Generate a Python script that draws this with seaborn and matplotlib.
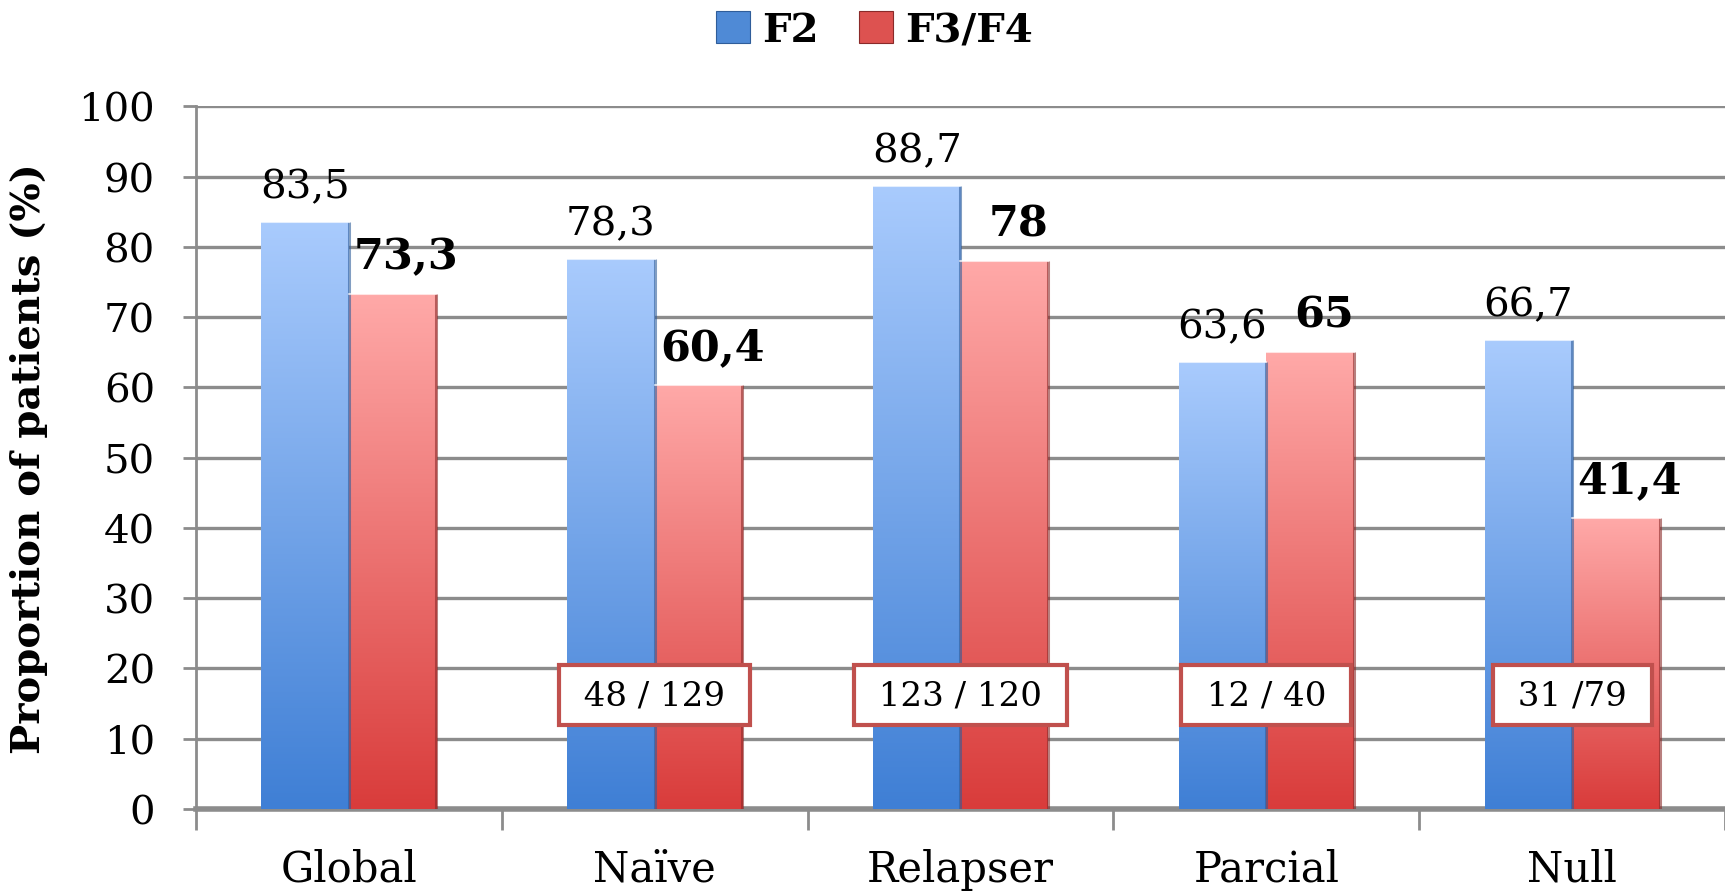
import numpy as np
import pandas as pd
import matplotlib
matplotlib.use("Agg")
import matplotlib.pyplot as plt
import seaborn as sns
from matplotlib.colors import LinearSegmentedColormap
from matplotlib.patches import Rectangle

# ---- data ----
categories = ["Global", "Naïve", "Relapser", "Parcial", "Null"]
series_names = ["F2", "F3/F4"]
f2_values = [83.5, 78.3, 88.7, 63.6, 66.7]
f34_values = [73.3, 60.4, 78.0, 65.0, 41.4]
f2_labels = ["83,5", "78,3", "88,7", "63,6", "66,7"]
f34_labels = ["73,3", "60,4", "78", "65", "41,4"]
count_categories = ["Naïve", "Relapser", "Parcial", "Null"]
count_labels = ["48 / 129", "123 / 120", "12 / 40", "31 /79"]
y_ticks = [0, 10, 20, 30, 40, 50, 60, 70, 80, 90, 100]

df = pd.DataFrame({
    "category": categories * 2,
    "series": [series_names[0]] * len(categories) + [series_names[1]] * len(categories),
    "value": f2_values + f34_values,
})

sns.set_theme(style="white")
serif = ["DejaVu Serif", "Liberation Serif"]
plt.rcParams["font.family"] = serif
plt.rcParams["text.color"] = "black"
plt.rcParams["axes.labelcolor"] = "black"
plt.rcParams["xtick.labelcolor"] = "black"
plt.rcParams["ytick.labelcolor"] = "black"

grad_top = {"F2": "#a9cbfd", "F3/F4": "#ffa9a8"}
grad_bot = {"F2": "#3f7fd5", "F3/F4": "#d93c3b"}
legend_col = {"F2": "#4f8ad6", "F3/F4": "#dd5250"}
edge_dark = {"F2": "#2f5d9a", "F3/F4": "#8a2a29"}

fig = plt.figure(figsize=(17.25, 8.95), dpi=100)
ax = fig.add_axes([0.1136, 0.095, 0.8864, 0.785])

sns.barplot(data=df, x="category", y="value", hue="series", order=categories,
            hue_order=series_names, width=0.572, dodge=True, gap=0,
            palette=[grad_bot["F2"], grad_bot["F3/F4"]], legend=False,
            linewidth=0, ax=ax, zorder=3)

ax.set_ylim(0, 100)
ax.set_xlim(-0.5, 4.472)

# gradient fill clipped to each bar
grad = np.linspace(0, 1, 256).reshape(-1, 1)
bars_by_series = {}
for container, name in zip(ax.containers, series_names):
    cmap = LinearSegmentedColormap.from_list(name, [grad_bot[name], grad_top[name]])
    bars_by_series[name] = list(container)
    for bar in container:
        x0 = bar.get_x()
        w, h = bar.get_width(), bar.get_height()
        bar.set_facecolor("none")
        im = ax.imshow(grad, cmap=cmap, aspect="auto", origin="lower",
                       extent=[x0, x0 + w, 0, h], zorder=3)
        im.set_clip_path(bar)
        # bevel: dark right edge, light top edge
        ax.plot([x0 + w, x0 + w], [0, h], color=edge_dark[name], lw=2.2,
                alpha=0.6, zorder=4, solid_capstyle="butt")
        ax.plot([x0, x0 + w], [h, h], color="white", lw=1.5, alpha=0.7, zorder=4)

# value labels
for bar, lab in zip(bars_by_series["F2"], f2_labels):
    ax.annotate(lab, (bar.get_x() + bar.get_width() / 2, bar.get_height()),
                xytext=(0, 12), textcoords="offset points", ha="center",
                va="bottom", fontsize=29, color="black", zorder=6)
for bar, lab in zip(bars_by_series["F3/F4"], f34_labels):
    ax.annotate(lab, (bar.get_x() + bar.get_width() / 2, bar.get_height()),
                xytext=(10, 12), textcoords="offset points", ha="center",
                va="bottom", fontsize=31, fontweight="bold", color="black",
                zorder=6)

# patient counts
for cat, lab in zip(count_categories, count_labels):
    ax.text(categories.index(cat), 16.2, " " + lab + " ", ha="center",
            va="center", fontsize=24.5, color="black", zorder=7,
            bbox=dict(boxstyle="square,pad=0.42", facecolor="white",
                      edgecolor="#c0504d", linewidth=3))

# grid and axes
ax.set_yticks(y_ticks)
ax.yaxis.grid(True, color="#8c8c8c", linewidth=2.4, zorder=0)
ax.set_axisbelow(True)
for s in ["top", "right"]:
    ax.spines[s].set_visible(False)
ax.spines["left"].set_color("#8c8c8c")
ax.spines["left"].set_linewidth(2)
ax.spines["bottom"].set_color("#8c8c8c")
ax.spines["bottom"].set_linewidth(4)
ax.tick_params(axis="y", which="major", length=9.5, width=2, color="#8c8c8c",
               labelsize=29, pad=20, left=True, labelcolor="black")
ax.set_xticks(range(len(categories)))
ax.set_xticklabels(categories)
ax.set_xticks(np.arange(-0.5, len(categories) - 0.4, 1.0), minor=True)
ax.tick_params(axis="x", which="major", length=0, labelsize=30, pad=28,
               labelcolor="black")
ax.tick_params(axis="x", which="minor", length=15, width=2, color="#8c8c8c",
               bottom=True)
ax.set_xlabel("")
ax.set_ylabel("Proportion of patients (%)", fontsize=29, fontweight="bold",
              color="black")
ax.yaxis.set_label_coords(-0.097, 0.5)

# legend
handles = [Rectangle((0, 0), 1, 1, facecolor=legend_col[n], edgecolor=edge_dark[n],
                     linewidth=0.8) for n in series_names]
leg = fig.legend(handles, series_names, loc="center", bbox_to_anchor=(0.507, 0.965),
                 ncol=2, frameon=False, handlelength=0.85, handleheight=0.85,
                 handletextpad=0.3, columnspacing=1.0,
                 prop={"size": 29, "weight": "bold"})
for t in leg.get_texts():
    t.set_color("black")

fig.savefig("out.png", dpi=100)
